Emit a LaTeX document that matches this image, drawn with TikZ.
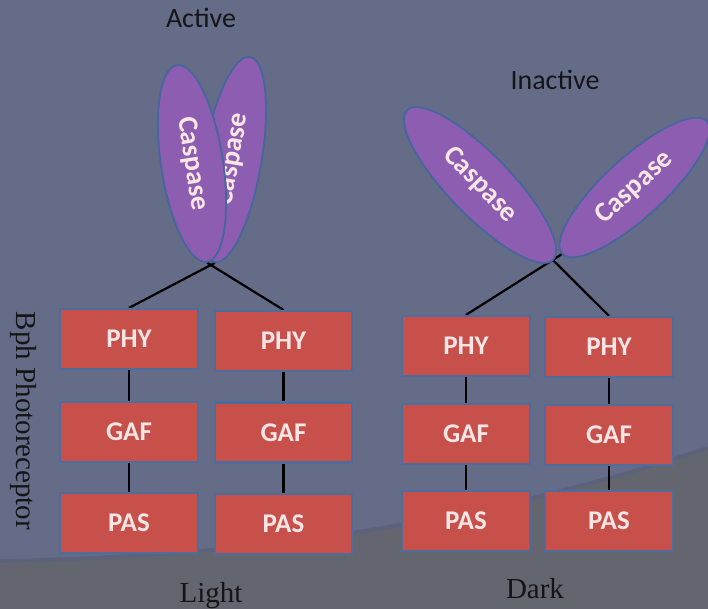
\documentclass[tikz,border=0pt]{standalone}
\usepackage{fontspec}
\setmainfont{Liberation Serif}
\newfontfamily\carl{Carlito}
\usetikzlibrary{shapes.geometric}
\pgfdeclarelayer{bgl}
\pgfdeclarelayer{linel}
\pgfsetlayers{bgl,linel,main}
\definecolor{bgtop}{HTML}{656C87}
\definecolor{bgbot}{HTML}{64666F}
\definecolor{bgband}{HTML}{5C627A}
\definecolor{boxred}{HTML}{C8504B}
\definecolor{boxedge}{HTML}{4E6C9C}
\definecolor{purp}{HTML}{8D5DB2}
\definecolor{purpedge}{HTML}{46669C}
\definecolor{txtw}{HTML}{FBE6E6}
\definecolor{txtk}{HTML}{151518}
\tikzset{
  domainbox/.style={draw=boxedge, line width=2.2pt, fill=boxred, inner sep=0pt,
    minimum height=60pt, text=txtw, font=\carl\bfseries\fontsize{27}{30}\selectfont},
  colA/.style={domainbox, minimum width=138pt},
  colB/.style={domainbox, minimum width=128pt},
  caspase/.style={ellipse, draw=purpedge, line width=1.8pt, fill=purp, inner sep=0pt,
    text=txtw, font=\carl\bfseries\fontsize{28}{30}\selectfont},
  conn/.style={draw=black, line width=2.2pt},
  sanslabel/.style={text=txtk, font=\carl\fontsize{28}{30}\selectfont, anchor=base, inner sep=0pt},
  seriflabel/.style={text=txtk, font=\fontsize{29}{30}\selectfont, anchor=base, inner sep=0pt}
}
\begin{document}
\begin{tikzpicture}[x=1pt,y=-1pt]
\useasboundingbox (0,0) rectangle (708,609);
\begin{pgfonlayer}{bgl}
  \fill[bgtop] (0,0) rectangle (708,609);
  \fill[bgbot] (0,563) .. controls (300,558) and (520,512) .. (708,450) -- (708,609) -- (0,609) -- cycle;
  \draw[bgband, line width=4pt] (0,561) .. controls (300,556) and (520,510) .. (708,448);
\end{pgfonlayer}

% labels
\node[sanslabel] (active) at (201,28) {Active};
\node[sanslabel] (inactive) at (555,90) {Inactive};
\node[seriflabel, rotate=-90, anchor=center] (bph) at (23,421) {Bph Photoreceptor};
\node[seriflabel] (light) at (211,602) {Light};
\node[seriflabel] (dark) at (535,598) {Dark};

% caspase ellipses
\node[caspase, minimum width=208pt, minimum height=58pt, rotate=80.3] (casAR) at (232.5,159.5) {Caspase};
\node[caspase, minimum width=199pt, minimum height=62pt, rotate=-81.3] (casAL) at (192,163.5) {Caspase};
\node[caspase, minimum width=209pt, minimum height=62pt, rotate=-45.8] (casIL) at (480,185) {Caspase};
\node[caspase, minimum width=196pt, minimum height=60pt, rotate=42.5] (casIR) at (634.5,187.5) {Caspase};

% domain boxes
\node[colA] (phy1) at (129,339) {PHY};
\node[colA] (gaf1) at (129,432) {GAF};
\node[colA] (pas1) at (129,523) {PAS};
\node[colA, minimum width=137pt] (phy2) at (283.5,341) {PHY};
\node[colA, minimum width=137pt] (gaf2) at (283.5,432.5) {GAF};
\node[colA, minimum width=137pt] (pas2) at (283.5,524) {PAS};
\node[colB] (phy3) at (466,346) {PHY};
\node[colB] (gaf3) at (466,434) {GAF};
\node[colB] (pas3) at (466,521) {PAS};
\node[colB] (phy4) at (609,347) {PHY};
\node[colB] (gaf4) at (609,435) {GAF};
\node[colB] (pas4) at (609,521) {PAS};

\begin{pgfonlayer}{linel}
  \draw[conn] (phy1.north) -- (casAR.west);
  \draw[conn] (phy2.north) -- (casAL.east);
  \draw[conn] (phy3.north) -- (casIR.west);
  \draw[conn] (phy4.north) -- (casIL.east);
  \foreach \c in {1,2,3,4}{
    \draw[conn] (phy\c.south) -- (gaf\c.north);
    \draw[conn] (gaf\c.south) -- (pas\c.north);
  }
\end{pgfonlayer}
\end{tikzpicture}
\end{document}
